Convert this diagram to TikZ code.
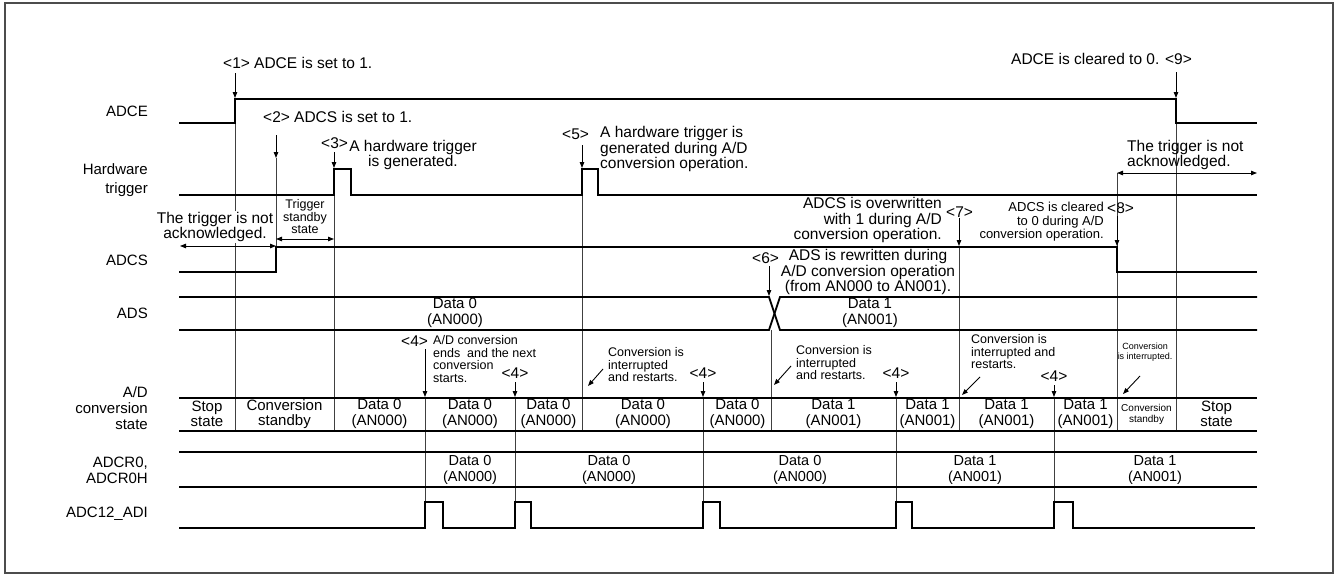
\documentclass[tikz,border=0pt]{standalone}
\usepackage{fontspec}
\setmainfont{Liberation Sans}
\usetikzlibrary{arrows.meta}
\tikzset{
  sig/.style = {line width=1.8pt, line join=miter},
  guide/.style = {line width=0.9pt, black!75},
  ptr/.style = {line width=0.9pt, -{Triangle[length=6pt,width=4.5pt]}},
  dbl/.style = {line width=0.9pt, {Triangle[length=6pt,width=4.5pt]}-{Triangle[length=6pt,width=4.5pt]}},
  lab/.style = {anchor=east, align=right, inner sep=0pt, font=\fontsize{15}{16}\selectfont},
  note/.style = {inner sep=0pt, font=\fontsize{15.5}{15.5}\selectfont},
  smalltxt/.style = {inner sep=0pt, font=\fontsize{12.5}{12.5}\selectfont},
  cell/.style = {align=center, inner sep=0pt, font=\fontsize{15}{15.5}\selectfont},
}

\begin{document}
\begin{tikzpicture}[x=1pt,y=-1pt]
  \useasboundingbox (0,0) rectangle (1338,576);
  \draw[black!70, line width=1.3pt] (5,3) rectangle (1333,573);

  \node[lab] (lADCE) at (148,111) {ADCE};
  \node[lab, font=\fontsize{15}{19}\selectfont] (lHW) at (148,180) {Hardware\\trigger};
  \node[lab] (lADCS) at (148,260) {ADCS};
  \node[lab] (lADS) at (148,313) {ADS};
  \node[lab] (lCONV) at (148,408) {A/D\\conversion\\state};
  \node[lab] (lADCR) at (148,470) {ADCR0,\\ADCR0H};
  \node[lab] (lADI) at (148,514) {ADC12\_ADI};

  \foreach \x/\ya/\yb in {235/99/431, 276/158/247, 334/169/431, 582/169/431, 771/330/431, 959/247/431, 1117/173/431, 1176/99/431,
    425/398/502, 515/398/502, 703/398/502, 896/398/502, 1054/398/502}{
    \draw[guide] (\x,\ya) -- (\x,\yb);
  }

  \draw[sig] (179,123) -- (235,123) -- (235,99) -- (1176,99) -- (1176,123) -- (1257,123);
  \draw[sig] (179,195) -- (334,195) -- (334,169) -- (351,169) -- (351,195) -- (582,195) -- (582,169) -- (598,169) -- (598,195) -- (1257,195);
  \draw[sig] (179,272) -- (276,272) -- (276,247) -- (1117,247) -- (1117,272) -- (1257,272);
  \draw[sig] (179,297) -- (769,297) -- (780,330) -- (1257,330);
  \draw[sig] (179,330) -- (769,330) -- (780,297) -- (1257,297);
  \draw[sig] (179,398) -- (1257,398);
  \draw[sig] (179,431) -- (1257,431);
  \draw[sig] (179,452) -- (1257,452);
  \draw[sig] (179,487) -- (1257,487);
  \draw[sig] (179,528) -- (425,528) -- (425,502) -- (443,502) -- (443,528) -- (515,528) -- (515,502) -- (531,502) -- (531,528)
    -- (703,528) -- (703,502) -- (720,502) -- (720,528) -- (896,528) -- (896,502) -- (912,502) -- (912,528)
    -- (1054,528) -- (1054,502) -- (1073,502) -- (1073,528) -- (1255,528);

  \node[note, anchor=west] (n1) at (223,63) {<1> ADCE is set to 1.};
  \draw[ptr] (235,73) -- (235,98);
  \node[note, anchor=west] (n2) at (263,117) {<2> ADCS is set to 1.};
  \draw[ptr] (276,135) -- (276,158);
  \node[note, anchor=west] (n3a) at (321,143) {<3>};
  \node[note, align=center] (n3) at (413,155) {A hardware trigger\\is generated.};
  \draw[ptr] (334,152) -- (334,168);
  \node[note, anchor=west] (n5a) at (562,134) {<5>};
  \node[note, anchor=west, align=left] (n5) at (600,149) {A hardware trigger is\\generated during A/D\\conversion operation.};
  \draw[ptr] (582,145) -- (582,168);
  \node[note, align=center, fill=white, inner sep=1pt] (ackL) at (215,227) {The trigger is not\\acknowledged.};
  \draw[dbl] (180,246) -- (276,246);
  \node[smalltxt, align=center] (tsb) at (305,217) {Trigger\\standby\\state};
  \draw[dbl] (276,239) -- (334,239);
  \node[note, anchor=west, align=left] (ackR) at (1127,155) {The trigger is not\\acknowledged.};
  \draw[dbl] (1117,173) -- (1257,173);
  \node[note, anchor=east, align=right] (n7) at (942,220) {ADCS is overwritten\\with 1 during A/D\\conversion operation.};
  \node[note, anchor=west] (n7a) at (946,212) {<7>};
  \draw[ptr] (959,218) -- (959,246);
  \node[note, anchor=west] (n6a) at (752,258) {<6>};
  \node[note, align=center] (n6) at (868,272) {ADS is rewritten during\\A/D conversion operation\\(from AN000 to AN001).};
  \draw[ptr] (769,266) -- (769,296);
  \node[smalltxt, anchor=east, align=right, font=\fontsize{13}{13.5}\selectfont] (n8) at (1104,222) {ADCS is cleared\\to 0 during A/D\\conversion operation.};
  \node[note, anchor=west] (n8a) at (1107,208) {<8>};
  \draw[ptr] (1117,216) -- (1117,246);
  \node[note, anchor=west] (n9) at (1011,59) {ADCE is cleared to 0. <9>};
  \draw[ptr] (1176,72) -- (1176,98);

  \node[cell] (ads0) at (455,313) {Data 0\\(AN000)};
  \node[cell] (ads1) at (870,313) {Data 1\\(AN001)};

  \node[note, anchor=west] (c4a) at (401,341) {<4>};
  \node[smalltxt, anchor=west, align=left] (c4t) at (433,359) {A/D conversion\\ends \ and the next\\conversion\\starts.};
  \draw[ptr] (425,349) -- (425,397);
  \foreach \x/\y in {515/373, 703/373, 896/373, 1054/376}{
    \node[note] at (\x,\y) {<4>};
    \draw[ptr] (\x,\y+9) -- (\x,397);
  }
  \node[smalltxt, anchor=west, align=left] (ir1) at (608,365) {Conversion is\\interrupted\\and restarts.};
  \draw[ptr] (603,369) -- (588,386);
  \node[smalltxt, anchor=west, align=left] (ir2) at (796,363) {Conversion is\\interrupted\\and restarts.};
  \draw[ptr] (791,366) -- (774,385);
  \node[smalltxt, anchor=west, align=left] (ir3) at (971,352) {Conversion is\\interrupted and\\restarts.};
  \draw[ptr] (980,377) -- (962,395);
  \node[smalltxt, align=center, font=\fontsize{9}{10.5}\selectfont] (ir4) at (1145,352) {Conversion\\is interrupted.};
  \draw[ptr] (1140,376) -- (1123,394);

  \foreach \cx/\txt in {207/{Stop\\state}, 284.5/{Conversion\\standby}, 379.5/{Data 0\\(AN000)}, 470/{Data 0\\(AN000)},
    548.5/{Data 0\\(AN000)}, 643/{Data 0\\(AN000)}, 737.5/{Data 0\\(AN000)}, 833.5/{Data 1\\(AN001)}, 927.5/{Data 1\\(AN001)},
    1006.5/{Data 1\\(AN001)}, 1085.5/{Data 1\\(AN001)}, 1216.5/{Stop\\state}}{
    \node[cell] at (\cx,414) {\txt};
  }
  \node[cell, font=\fontsize{10}{11}\selectfont] (cstb) at (1146.5,414) {Conversion\\standby};

  \foreach \cx/\txt in {470/{Data 0\\(AN000)}, 609/{Data 0\\(AN000)}, 800/{Data 0\\(AN000)}, 975/{Data 1\\(AN001)}, 1155/{Data 1\\(AN001)}}{
    \node[cell, font=\fontsize{14.5}{15.5}\selectfont] at (\cx,470) {\txt};
  }
\end{tikzpicture}
\end{document}
